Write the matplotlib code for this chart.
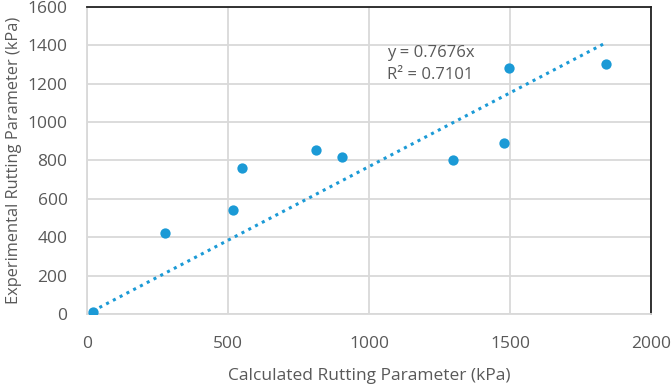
import matplotlib
matplotlib.use("Agg")
import matplotlib.pyplot as plt
import numpy as np

# values (kPa)
calculated = [20, 278, 517, 550, 813, 905, 1299, 1480, 1497, 1840]
experimental = [10, 422, 543, 762, 853, 816, 800, 889, 1282, 1302]
slope = 0.7676
r2 = 0.7101
xticks = [0, 500, 1000, 1500, 2000]
yticks = [0, 200, 400, 600, 800, 1000, 1200, 1400, 1600]

blue = "#1b9ad6"
gray_text = "#595959"
grid_col = "#d9d9d9"

plt.rcParams["font.family"] = ["Open Sans", "DejaVu Sans"]

fig = plt.figure(figsize=(6.71, 3.84), dpi=100)
ax = fig.add_axes([87 / 671, 1 - 314 / 384, (651 - 87) / 671, (314 - 6.7) / 384])

ax.scatter(calculated, experimental, s=55, color=blue, zorder=3, linewidths=0)

xs = np.array([min(calculated), max(calculated)])
ax.plot(xs, slope * xs, linestyle=(0, (1, 1.5)), color=blue, lw=2.2, zorder=2)

ax.text(1065, 1400, "y = %.4fx\nR² = %.4f" % (slope, r2), fontsize=12,
        color=gray_text, va="top", ha="left", linespacing=1.5)

ax.set_xlim(0, 2000)
ax.set_ylim(0, 1600)
ax.set_xticks(xticks)
ax.set_yticks(yticks)
ax.grid(True, color=grid_col, lw=1.3)
ax.set_axisbelow(True)
ax.tick_params(length=0, labelsize=12.5, labelcolor=gray_text)
ax.tick_params(axis="x", pad=16)
ax.tick_params(axis="y", pad=14)

for side in ["left", "bottom"]:
    ax.spines[side].set_color(grid_col)
    ax.spines[side].set_linewidth(1.3)
for side in ["top", "right"]:
    ax.spines[side].set_color("#222222")
    ax.spines[side].set_linewidth(1.3)

ax.set_xlabel("Calculated Rutting Parameter (kPa)", fontsize=12.5, color=gray_text, labelpad=11.5)
ax.set_ylabel("Experimental Rutting Parameter (kPa)", fontsize=11.8, color=gray_text, labelpad=4)

fig.savefig("out.png", dpi=100)
